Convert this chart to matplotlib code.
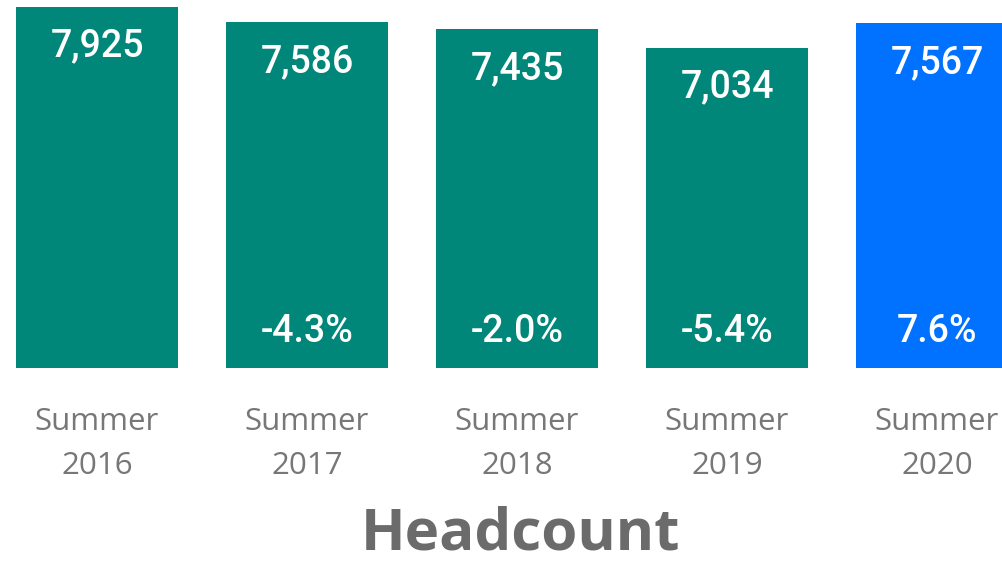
import matplotlib
matplotlib.use("Agg")
import matplotlib.pyplot as plt
from matplotlib.transforms import offset_copy

categories = ["Summer\n2016", "Summer\n2017", "Summer\n2018", "Summer\n2019", "Summer\n2020"]
headcount = [7925, 7586, 7435, 7034, 7567]
change_labels = ["", "-4.3%", "-2.0%", "-5.4%", "7.6%"]
bar_colors = ["#01877A", "#01877A", "#01877A", "#01877A", "#0072FF"]
title = "Headcount"

W, H = 1003, 565
fig = plt.figure(figsize=(W / 100, H / 100), dpi=100)
ax = fig.add_axes([0, (H - 368) / H, 1, (368 - 7) / H])
x = list(range(len(categories)))
ax.bar(x, headcount, width=0.771, color=bar_colors)
ax.set_xlim(-97 / 210, -97 / 210 + W / 210)
ax.set_ylim(0, max(headcount))
for s in ax.spines.values():
    s.set_visible(False)
ax.set_yticks([])
ax.set_xticks(x)
ax.set_xticklabels(categories, fontsize=22.5, color="#777777", family="Open Sans",
                   linespacing=1.6)
ax.tick_params(axis="x", length=0, pad=28)

for xi, v, lab in zip(x, headcount, change_labels):
    t1 = offset_copy(ax.transData, fig=fig, x=0, y=-39, units="dots")
    ax.text(xi, v, f"{v:,}", transform=t1, ha="center", va="center",
            color="white", fontsize=27, fontweight="medium", family="Roboto",
            clip_on=False)
    if lab:
        t2 = offset_copy(ax.transData, fig=fig, x=0, y=37, units="dots")
        ax.text(xi, 0, lab, transform=t2, ha="center", va="center",
                color="white", fontsize=27, fontweight="medium", family="Roboto")

fig.text(521 / W, 1 - 534 / H, title, ha="center", va="center",
         fontsize=42, fontweight="bold", color="#6b6b6b", family="Open Sans")

fig.savefig("out.png", dpi=100)
